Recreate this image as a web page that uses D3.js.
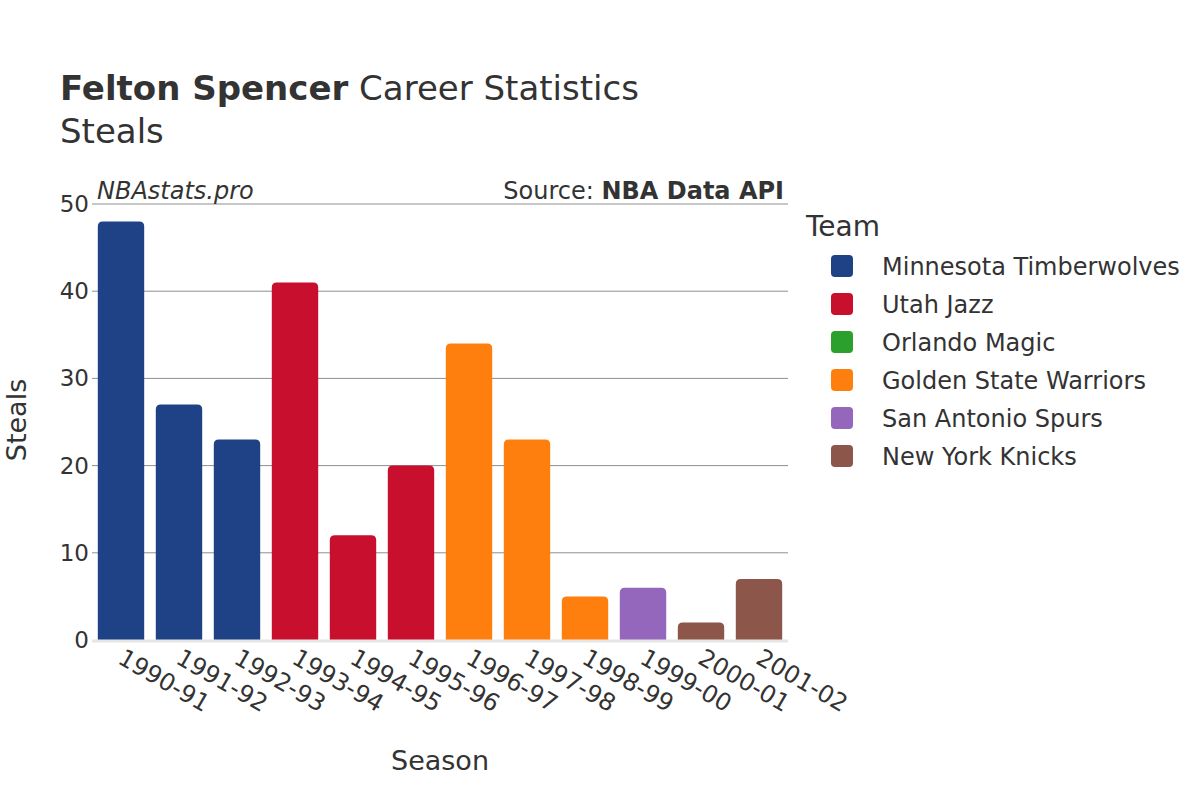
<!DOCTYPE html>
<html><head><meta charset="utf-8">
<script src="https://cdn.jsdelivr.net/npm/d3@7"></script>
<style>body{margin:0;background:#fff}text{font-family:"DejaVu Sans",sans-serif;fill:#333}</style>
</head><body>
<svg id="c" width="1200" height="800"></svg>
<script>
const seasons = ["1990-91","1991-92","1992-93","1993-94","1994-95","1995-96","1996-97","1997-98","1998-99","1999-00","2000-01","2001-02"];
const steals = [48,27,23,41,12,20,34,23,5,6,2,7];
const seasonTeam = ["Minnesota Timberwolves","Minnesota Timberwolves","Minnesota Timberwolves","Utah Jazz","Utah Jazz","Utah Jazz","Golden State Warriors","Golden State Warriors","Golden State Warriors","San Antonio Spurs","New York Knicks","New York Knicks"];
const teams = ["Minnesota Timberwolves","Utah Jazz","Orlando Magic","Golden State Warriors","San Antonio Spurs","New York Knicks"];
const teamColors = ["#1f4287","#c8102e","#2ca02c","#ff7f0e","#9467bd","#8c564b"];
const yTicks = [0,10,20,30,40,50];

const svg = d3.select("#c");
const L=92,R=788,T=204,B=640;
const x = d3.scaleBand().domain(seasons).range([L,R]).paddingInner(0.2).paddingOuter(0.1);
const y = d3.scaleLinear().domain([0,50]).range([B,T]);
const color = d3.scaleOrdinal().domain(teams).range(teamColors);

// title
const t = svg.append("text").attr("x",60).attr("y",100).style("font-size","34px");
t.append("tspan").style("font-weight","bold").text("Felton Spencer");
t.append("tspan").text(" Career Statistics");
svg.append("text").attr("x",60).attr("y",143).style("font-size","34px").text("Steals");

// grid
svg.append("g").selectAll("line").data(yTicks.filter(d=>d>0)).join("line")
  .attr("x1",L).attr("x2",R).attr("y1",d=>y(d)).attr("y2",d=>y(d))
  .attr("stroke","#8f8f8f").attr("stroke-width",1);
// y tick labels
svg.append("g").selectAll("text").data(yTicks).join("text")
  .attr("x",89).attr("y",d=>y(d)+8).attr("text-anchor","end").style("font-size","23px").text(d=>d);

// bars with rounded top
function barPath(x0,w,y0,y1,r){
  r=Math.min(r,(y1-y0),w/2);
  return `M${x0},${y1}V${y0+r}Q${x0},${y0} ${x0+r},${y0}H${x0+w-r}Q${x0+w},${y0} ${x0+w},${y0+r}V${y1}Z`;
}
svg.append("g").selectAll("path").data(seasons).join("path")
  .attr("d",(s,i)=>barPath(x(s),x.bandwidth(),y(steals[i]),y(0),5))
  .attr("fill",(s,i)=>color(seasonTeam[i]));

// zero line
svg.append("line").attr("x1",L).attr("x2",R).attr("y1",y(0)+1).attr("y2",y(0)+1).attr("stroke","#e6e6e6").attr("stroke-width",3);

// x labels
svg.append("g").selectAll("text").data(seasons).join("text")
  .attr("transform",s=>`translate(${x(s)+x.bandwidth()/2+4},${B+8}) rotate(30)`)
  .attr("text-anchor","start").attr("dy","0.7em").style("font-size","24px").text(s=>s);

// axis titles
svg.append("text").attr("x",440).attr("y",770).attr("text-anchor","middle").style("font-size","27px").text("Season");
svg.append("text").attr("transform","translate(26,420) rotate(-90)").attr("text-anchor","middle").style("font-size","27px").text("Steals");

// watermark & source
svg.append("text").attr("x",97).attr("y",199).style("font-size","24px").style("font-style","italic").text("NBAstats.pro");
const s = svg.append("text").attr("x",784).attr("y",199).attr("text-anchor","end").style("font-size","24px");
s.append("tspan").text("Source: ");
s.append("tspan").style("font-weight","bold").text("NBA Data API");

// legend
svg.append("text").attr("x",806).attr("y",236).style("font-size","28px").text("Team");
const lg = svg.append("g").selectAll("g").data(teams).join("g").attr("transform",(d,i)=>`translate(0,${266+i*38})`);
lg.append("rect").attr("x",831).attr("y",-11).attr("width",22).attr("height",22).attr("rx",4).attr("fill",d=>color(d));
lg.append("text").attr("x",882).attr("y",9).style("font-size","24px").text(d=>d);
</script>
</body></html>
